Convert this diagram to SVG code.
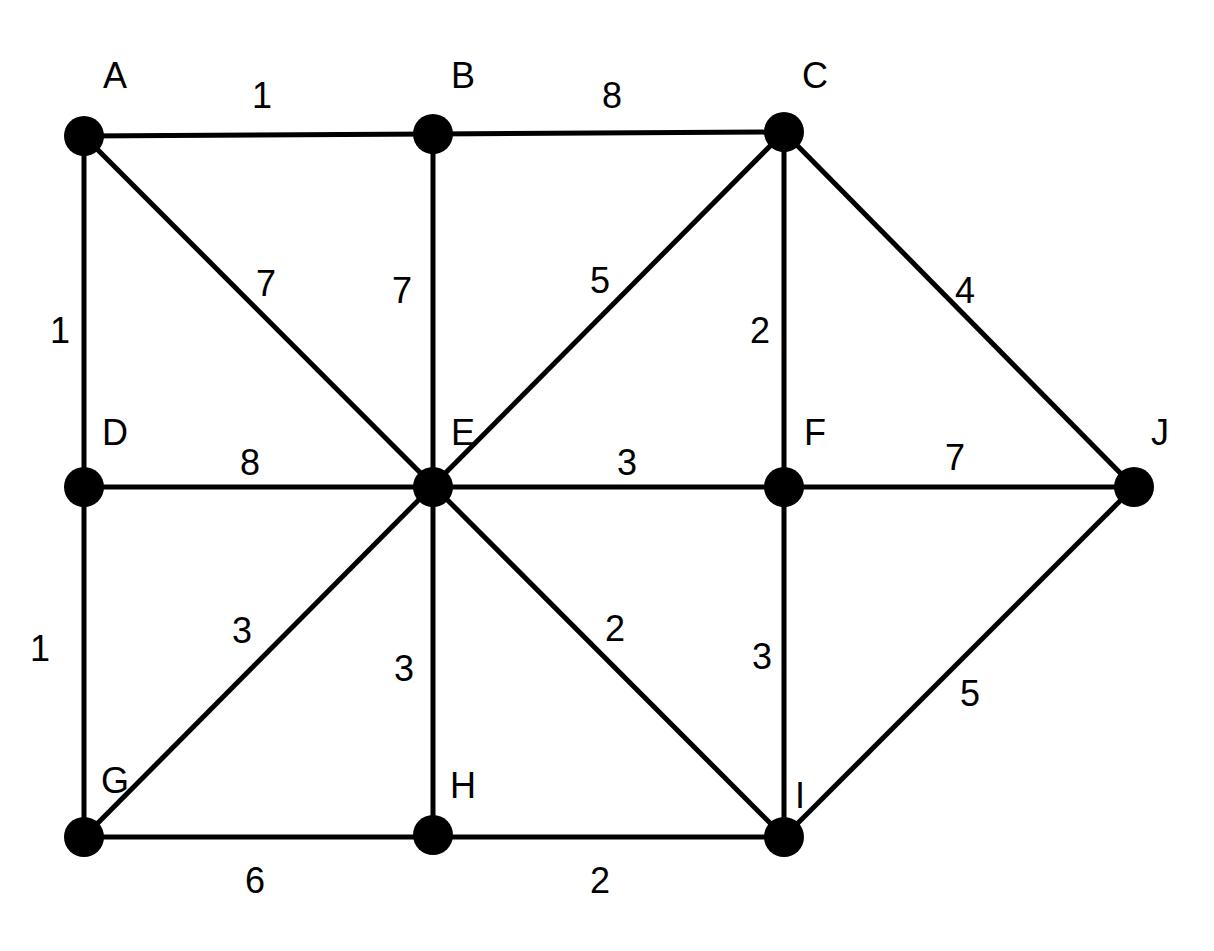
<svg xmlns="http://www.w3.org/2000/svg" width="1214" height="951" viewBox="0 0 1214 951">
<style>
.e{stroke:#000;stroke-width:5;fill:none}
.n{fill:#000}
text{font-family:"Liberation Sans",Arial,sans-serif;font-size:36px;fill:#000;text-anchor:middle;dominant-baseline:central}
</style>
<rect width="1214" height="951" fill="#fff"/>
<g id="connectors">
<line class="e" x1="84" y1="136" x2="433" y2="134"/>
<line class="e" x1="433" y1="134" x2="784" y2="132"/>
<line class="e" x1="84" y1="136" x2="84" y2="837"/>
<line class="e" x1="433" y1="134" x2="433" y2="835"/>
<line class="e" x1="784" y1="132" x2="784" y2="837"/>
<line class="e" x1="84" y1="487" x2="1134" y2="487"/>
<line class="e" x1="84" y1="837" x2="784" y2="837"/>
<line class="e" x1="84" y1="136" x2="784" y2="837"/>
<line class="e" x1="784" y1="132" x2="84" y2="837"/>
<line class="e" x1="784" y1="132" x2="1134" y2="487"/>
<line class="e" x1="784" y1="837" x2="1134" y2="487"/>
<text x="262" y="95">1</text><text x="612" y="95">8</text>
<text x="60" y="330">1</text><text x="266" y="283">7</text>
<text x="402" y="290">7</text><text x="600" y="280">5</text>
<text x="760" y="330">2</text><text x="965" y="290">4</text>
<text x="250" y="462">8</text><text x="627" y="462">3</text>
<text x="955" y="457">7</text><text x="40" y="648">1</text>
<text x="242" y="630">3</text><text x="404" y="668">3</text>
<text x="615" y="628">2</text><text x="762" y="656">3</text>
<text x="970" y="693">5</text><text x="255" y="880">6</text>
<text x="600" y="880">2</text>
</g>
<g id="A"><circle class="n" cx="84" cy="136" r="20"/><text x="115" y="75">A</text></g>
<g id="B"><circle class="n" cx="433" cy="134" r="20"/><text x="463" y="75">B</text></g>
<g id="C"><circle class="n" cx="784" cy="132" r="20"/><text x="815" y="75">C</text></g>
<g id="D"><circle class="n" cx="84" cy="487" r="20"/><text x="115" y="432">D</text></g>
<g id="E"><circle class="n" cx="433" cy="487" r="20"/><text x="463" y="432">E</text></g>
<g id="F"><circle class="n" cx="784" cy="487" r="20"/><text x="815" y="432">F</text></g>
<g id="J"><circle class="n" cx="1134" cy="487" r="20"/><text x="1160" y="432">J</text></g>
<g id="G"><circle class="n" cx="84" cy="837" r="20"/><text x="115" y="780">G</text></g>
<g id="H"><circle class="n" cx="433" cy="835" r="20"/><text x="463" y="785">H</text></g>
<g id="I"><circle class="n" cx="784" cy="837" r="20"/><text x="800" y="795">I</text></g>
</svg>
